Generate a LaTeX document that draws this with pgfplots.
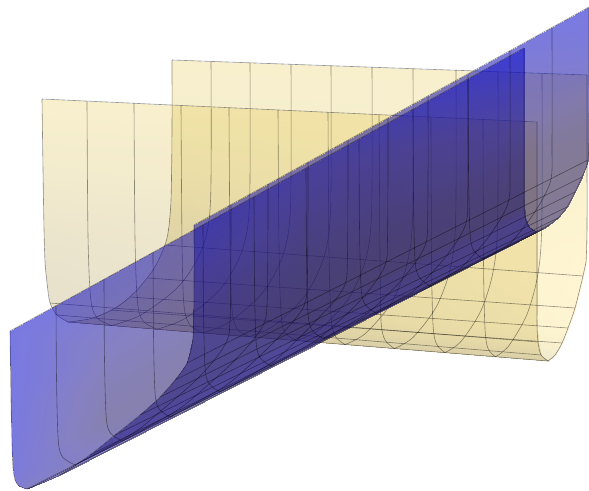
\documentclass[border=0pt]{standalone}
\usepackage{pgfplots}
\pgfplotsset{compat=1.18}
\pgfplotsset{
  colormap={yl}{rgb255(0cm)=(255,215,75) rgb255(4cm)=(227,195,55) rgb255(10cm)=(163,139,55)},
  colormap={bl}{rgb255(0cm)=(10,10,205) rgb255(6cm)=(34,25,146) rgb255(10cm)=(34,25,102)},
  ysheet/.style={surf,shader=interp,opacity=0.25,colormap name=yl,point meta=\thisrow{c}},
  bsheet/.style={surf,shader=interp,opacity=0.55,colormap name=bl,point meta=\thisrow{c}},
  ln/.style={black,opacity=0.42,line width=0.45pt,no markers,line join=round},
  cv/.style={ln,smooth,tension=0.5},
}
\begin{document}
\begin{tikzpicture}
\begin{axis}[
  view={0}{90},
  hide axis,
  scale only axis,
  width=441.75pt,height=368.25pt,
  xmin=0,xmax=589,ymin=0,ymax=491,
  y dir=reverse,
  point meta min=0,point meta max=1,
]
\path (axis cs:0,0,0) rectangle (axis cs:589,491,0);
% yellow, back sheet
\addplot3[ysheet,mesh/cols=2] table {
x y z c
172 60 0 .4
587 75 0 .4
172 130 0 .5
587 150 0 .3
171 200 0 .65
587 225 0 .15
168 233 0 .8
586 262 0 0
165 245 0 .85
583 276 0 0
157 263 0 .9
579 293 0 0
148 278 0 .95
575 308 0 .05
130 297 0 1
568 328 0 .1
110 310 0 1
562 343 0 .3
90 318 0 1
555 355 0 .6
68 322 0 1
548 361 0 .9
};
% yellow, front sheet
\addplot3[ysheet,mesh/cols=2] table {
x y z c
42 99 0 .4
537 122 0 .4
43 170 0 .6
537 195 0 .5
44 230 0 .85
537 260 0 .6
45 262 0 .95
537 300 0 .65
47 283 0 1
537 325 0 .7
50 303 0 1
538 342 0 .8
57 315 0 1
541 355 0 .9
68 322 0 1
548 361 0 1
};
% yellow outlines and lengthwise mesh
\addplot[ln] coordinates {(172,60) (587,75)};
\addplot[ln] coordinates {(42,99) (537,122)};
\addplot[ln] coordinates {(68,322) (548,361)};
\addplot[ln] coordinates {(165,245) (583,276)};
\addplot[ln] coordinates {(148,278) (575,308)};
\addplot[ln] coordinates {(130,297) (568,328)};
\addplot[ln] coordinates {(110,310) (562,343)};
\addplot[ln] coordinates {(50,303) (538,342)};
\addplot[ln] coordinates {(57,315) (541,355)};
\addplot[cv] coordinates {(42,99) (43,170) (44,230) (45,262) (47,283) (50,303) (57,315) (68,322)};
\addplot[cv] coordinates {(537,122) (537,195) (537,260) (537,300) (537,325) (538,342) (541,355) (548,361)};
\addplot[cv] coordinates {(172,60) (172,130) (171,200) (168,233) (163,250) (153,270) (137,290) (117,307) (93,318) (68,322)};
\addplot[cv] coordinates {(587,75) (587,150) (587,225) (586,262) (583,276) (575,308) (568,328) (562,343) (555,355) (548,361)};
% yellow front, crosswise mesh
\addplot[cv] coordinates {(87,101) (88,235.7) (90.7,298.6) (96.8,317.6) (111.5,325.5)};
\addplot[cv] coordinates {(134,103) (135,238.6) (137.5,301.9) (143,321) (157,329.2)};
\addplot[cv] coordinates {(181,105.5) (182,242) (184,305.6) (190,325) (202.5,332.9)};
\addplot[cv] coordinates {(229,107.7) (230,245) (232,309) (237,328.7) (249,336.7)};
\addplot[cv] coordinates {(278,110) (279,248) (281,313) (285,332.5) (296.5,340.6)};
\addplot[cv] coordinates {(328,112.3) (329,251.5) (331,316.5) (335,336) (345,344.5)};
\addplot[cv] coordinates {(379,114.7) (380,255) (381,320.4) (385,340) (394.5,348.5)};
\addplot[cv] coordinates {(431,117) (431.5,258.4) (433,324.3) (436.5,344) (445,352.6)};
\addplot[cv] coordinates {(483,119.5) (483.5,262) (485,328.3) (488,348.5) (495.5,356.8)};
% yellow back, crosswise mesh
\addplot[cv] coordinates {(211,61.4) (210.5,201.4) (202,248.8) (179.2,285.8) (141.3,314.8) (111.5,325.5)};
\addplot[cv] coordinates {(250,62.8) (249.5,204) (241.6,252) (220.2,289.2) (184.9,318.5) (157,329.2)};
\addplot[cv] coordinates {(291,64.3) (290.5,206.7) (283,255) (262.7,292.6) (229,322.2) (202.5,332.9)};
\addplot[cv] coordinates {(331,65.7) (330.6,209.3) (323.6,258) (304.8,296) (273.6,325.9) (249,336.7)};
\addplot[cv] coordinates {(372,67.2) (371.6,212) (365.2,261.3) (347.8,299.6) (319.2,329.7) (296.5,340.6)};
\addplot[cv] coordinates {(413,68.7) (412.7,214.9) (406.9,264.5) (391.2,303.1) (365.4,333.5) (345,344.5)};
\addplot[cv] coordinates {(456,70.2) (455.7,217.7) (450.5,267.8) (436.3,306.8) (413,337.4) (394.5,348.5)};
\addplot[cv] coordinates {(498,71.8) (497.7,220.6) (493.2,271.2) (481,310.5) (461,341.4) (445,352.6)};
\addplot[cv] coordinates {(542,73.4) (541.8,223.6) (537.8,274.6) (527,314.3) (509,345.5) (495.5,356.8)};
% blue, back sheet
\addplot3[bsheet,mesh/cols=3] table {
x y z c
194 225 0 .35
388 117.9 0 .5
589 7 0 0
194 280 0 .6
388 173 0 .8
589 60 0 .3
193 337 0 .8
387.6 232.5 0 1
589 120 0 .85
187 363 0 .7
384.4 267 0 1
588 160 0 1
175 380 0 .7
373.4 284.4 0 1
582 177 0 1
160 397 0 .7
360.5 300.2 0 1
575 192 0 1
140 415 0 .7
344.7 317.6 0 1
567 207 0 1
115 435 0 .7
325.4 333 0 1
558 218 0 1
90 455 0 .7
306.7 346 0 1
549 225 0 1
60 475 0 .7
289.7 357.7 0 1
543 229 0 1
27 489 0 .7
271 366 0 1
537 232 0 1
};
% blue, front sheet
\addplot3[bsheet,mesh/cols=4] table {
x y z c
10 331 0 0
104 279 0 .2
306 168 0 .55
524 48 0 0
11 400 0 .05
105 350 0 .6
306.5 243.5 0 .85
524 130 0 .7
12 445 0 .1
106 395 0 .85
307 291 0 1
524 180 0 .95
13 468 0 .15
108 420 0 .95
308 314 0 1
524 203 0 1
15 480 0 .25
110 432 0 .85
310 327 0 .9
525 217 0 .65
19 486 0 .4
114 438 0 .7
314 335 0 .7
529 227 0 .6
27 489 0 .6
122 441 0 .7
324 339 0 .7
537 232 0 .6
};
% blue outlines and lengthwise mesh
\addplot[ln] coordinates {(10,331) (524,48)};
\addplot[ln] coordinates {(194,225) (589,7)};
\addplot[ln] coordinates {(27,489) (537,232)};
\addplot[ln] coordinates {(187,363) (588,160)};
\addplot[ln] coordinates {(175,380) (582,177)};
\addplot[ln] coordinates {(160,397) (575,192)};
\addplot[ln] coordinates {(140,415) (567,207)};
\addplot[ln] coordinates {(115,435) (558,218)};
\addplot[ln] coordinates {(90,455) (549,225)};
\addplot[ln] coordinates {(60,475) (543,229)};
\addplot[cv] coordinates {(10,331) (11,400) (12,445) (13,468) (15,480) (19,486) (27,489)};
\addplot[cv] coordinates {(524,48) (524,130) (524,180) (524,203) (525,217) (529,227) (537,232)};
\addplot[cv] coordinates {(194,225) (194,280) (193,337) (187,363) (175,380) (160,397) (140,415) (115,435) (90,455) (60,475) (27,489)};
\addplot[cv] coordinates {(589,7) (589,60) (589,120) (588,160) (582,177) (575,192) (567,207) (558,218) (549,225) (543,229) (537,232)};
% blue front, crosswise mesh
\addplot[cv] coordinates {(56,305.7) (56.6,385.4) (58.3,441) (62.6,457) (75,465)};
\addplot[cv] coordinates {(104,279) (104.5,360) (106.2,416.7) (110.3,432.9) (122,441)};
\addplot[cv] coordinates {(153,252) (153.5,334.5) (155,392.3) (159,408.8) (170,417)};
\addplot[cv] coordinates {(203,225) (203.5,308.5) (205,367) (209,383.7) (220,392)};
\addplot[cv] coordinates {(254,197) (254.5,281.5) (256,340.7) (260,357.6) (271,366)};
\addplot[cv] coordinates {(306,168) (306.5,253.5) (308,313.4) (312.3,330.5) (324,339)};
\addplot[cv] coordinates {(359,139) (359.5,226) (361,287) (365,304.3) (376,313)};
\addplot[cv] coordinates {(413,109) (413.5,197.5) (415,259.5) (419,277) (430,286)};
\addplot[cv] coordinates {(468,79) (468.5,169) (470,232) (473.3,250) (483,259)};
% blue back, crosswise mesh
\addplot[cv] coordinates {(231,204.6) (230.2,317.1) (224.8,345) (198.7,377.5) (155.7,415.3) (132,433.8) (75,465)};
\addplot[cv] coordinates {(268,184.2) (267.3,297) (262.5,326.5) (236.8,358.3) (195.6,395.8) (173,412.8) (122,441)};
\addplot[cv] coordinates {(308,162) (307.4,276) (303.2,307.4) (277.5,338.5) (237.8,376) (216.2,391.5) (170,417)};
\addplot[cv] coordinates {(348,140) (347.5,254.4) (343.8,287.4) (318.8,317.9) (281.2,355) (261,369.3) (220,392)};
\addplot[cv] coordinates {(388,117.9) (387.6,232.5) (384.4,267) (360.5,300.2) (325.4,333) (306.7,346) (271,366)};
\addplot[cv] coordinates {(428,95.8) (427.8,210.1) (424.9,245.9) (402.8,278.7) (371,310.3) (353,322) (324,339)};
\addplot[cv] coordinates {(468,73.8) (467.8,187.9) (465.4,225.2) (445,257.7) (416.4,288.4) (400.4,298.6) (376,313)};
\addplot[cv] coordinates {(510,50.6) (510,164.8) (508,203.1) (489.5,235.6) (464,265) (450.8,274.2) (430,286)};
\addplot[cv] coordinates {(552,27.4) (552,141.4) (550.5,181.2) (533.9,213.4) (511.5,241.9) (499.9,249.7) (483,259)};
\end{axis}
\end{tikzpicture}
\end{document}
